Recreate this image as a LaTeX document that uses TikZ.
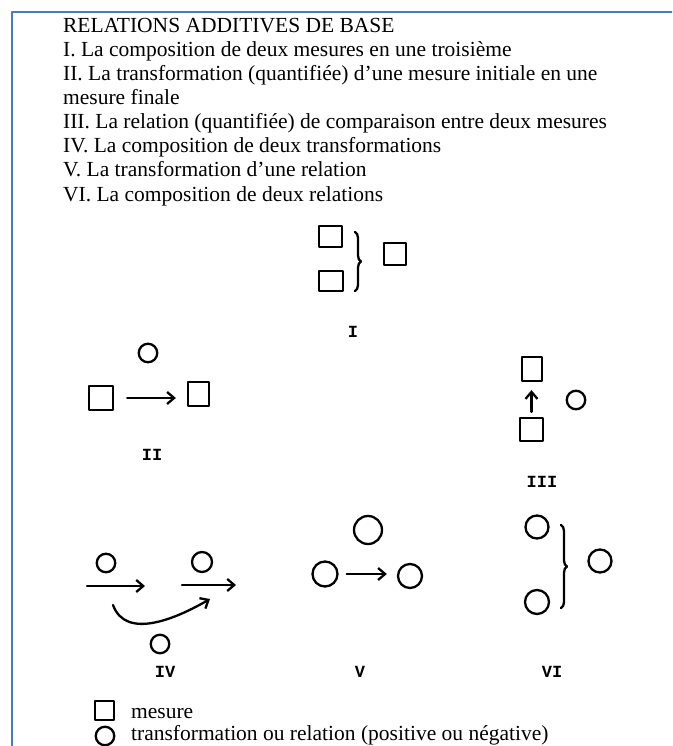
\documentclass[tikz,border=0pt]{standalone}
\usepackage{fontspec}
\setmainfont{Liberation Serif}
\newfontfamily\machinefont{Liberation Mono}
\usepackage{tikz}
\usetikzlibrary{positioning,arrows,arrows.meta,calc,decorations.pathreplacing}
\definecolor{cadre}{RGB}{74,122,196}
\tikzset{
  schema/.style={x=1pt,y=-1pt,line width=2.3pt,line cap=round,line join=round},
  texte/.style={inner sep=0pt,anchor=base west,font=\fontsize{21.5}{24}\selectfont},
  mesure/.style={rectangle,draw,minimum width=22pt,minimum height=22pt,inner sep=0pt},
  transfo/.style={circle,draw,minimum size=18.5pt,inner sep=0pt},
  numero/.style={inner sep=0pt,font=\machinefont\bfseries\fontsize{17}{17}\selectfont},
  fleche/.style={-{Straight Barb[length=7pt,width=12pt]}},
  accolade/.style={decorate,decoration={brace,amplitude=6pt}}}
\begin{document}
\begin{tikzpicture}[schema]
  \useasboundingbox (0,0) rectangle (672,746);
  \fill[white] (0,0) rectangle (672,746);
  \clip (0,0) rectangle (672,746);
  \draw[cadre,line width=2pt] (12,780) -- (12,12) -- (700,12);
  \node[texte] (titre) at (62,33) {RELATIONS ADDITIVES DE BASE};
  \node[texte] (ligneI) at (62,57) {I. La composition de deux mesures en une troisième};
  \node[texte] (ligneII) at (62,81) {II. La transformation (quantifiée) d’une mesure initiale en une};
  \node[texte] (ligneIIb) at (62,105) {mesure finale};
  \node[texte] (ligneIII) at (62,129) {III. La relation (quantifiée) de comparaison entre deux mesures};
  \node[texte] (ligneIV) at (62,153) {IV. La composition de deux transformations};
  \node[texte] (ligneV) at (62,177) {V. La transformation d’une relation};
  \node[texte] (ligneVI) at (62,201) {VI. La composition de deux relations};
  % I
  \node[mesure,minimum width=23pt,minimum height=21pt] (Ia) at (330.5,236.5) {};
  \node[mesure,minimum width=24pt,minimum height=20pt] (Ib) at (331,281) {};
  \node[mesure] (Ic) at (395,254) {};
  \coordinate (Ihaut) at (355,232);
  \coordinate (Ibas) at (355,291);
  \draw[accolade] (Ihaut) -- (Ibas);
  \node[numero] (nI) at (353,332) {I};
  % II
  \node[transfo] (IIt) at (148,353) {};
  \node[mesure,minimum width=24pt,minimum height=24pt] (IIa) at (101,398) {};
  \node[mesure,minimum width=21pt,minimum height=24pt] (IIb) at (198.5,394) {};
  \draw[fleche,shorten <=13pt,shorten >=11pt] (IIa.east) -- (IIa.east -| IIb.west);
  \node[numero] (nII) at (152,455) {II};
  % III
  \node[mesure,minimum width=20pt,minimum height=24pt] (IIIa) at (532,369) {};
  \node[mesure,minimum width=23pt,minimum height=23pt] (IIIb) at (531.5,429.5) {};
  \node[transfo] (IIIt) at (576,400) {};
  \draw[fleche,shorten <=5pt,shorten >=8pt] (IIIb.north) -- (IIIb.north |- IIIa.south);
  \node[numero] (nIII) at (542,482) {III};
  % IV
  \node[transfo] (IVa) at (106,563) {};
  \node[transfo,minimum size=20pt] (IVb) at (202,562) {};
  \node[transfo] (IVc) at (160,644) {};
  \coordinate (IVd1) at (87,586);
  \coordinate (IVf1) at (145,586);
  \coordinate (IVd2) at (182,585);
  \coordinate (IVf2) at (236,585);
  \coordinate (IVd3) at (113,605);
  \coordinate (IVf3) at (210,599);
  \draw[fleche] (IVd1) -- (IVf1);
  \draw[fleche] (IVd2) -- (IVf2);
  \draw[fleche] (IVd3) to[out=-70,in=-150] (IVf3);
  \node[numero] (nIV) at (165,672) {IV};
  % V
  \node[transfo,minimum size=28pt] (Va) at (368,530) {};
  \node[transfo,minimum size=25pt] (Vb) at (325,574) {};
  \node[transfo,minimum size=24pt] (Vc) at (410,576) {};
  \draw[fleche,shorten <=8pt,shorten >=10pt] (Vb.east) -- (Vb.east -| Vc.west);
  \node[numero] (nV) at (360,672) {V};
  % VI
  \node[transfo,minimum size=23pt] (VIa) at (537,527) {};
  \node[transfo,minimum size=24pt] (VIb) at (537,602) {};
  \node[transfo,minimum size=23pt] (VIc) at (600,561) {};
  \coordinate (VIhaut) at (561,525);
  \coordinate (VIbas) at (561,608);
  \draw[accolade] (VIhaut) -- (VIbas);
  \node[numero] (nVI) at (552,672) {VI};
  % legende
  \node[mesure,minimum width=19pt,minimum height=19pt] (lm) at (104.5,710.5) {};
  \node[transfo] (lt) at (105,736) {};
  \node[texte] (tm) at (130,718) {mesure};
  \node[texte] (tt) at (130,740) {transformation ou relation (positive ou négative)};
\end{tikzpicture}
\end{document}
